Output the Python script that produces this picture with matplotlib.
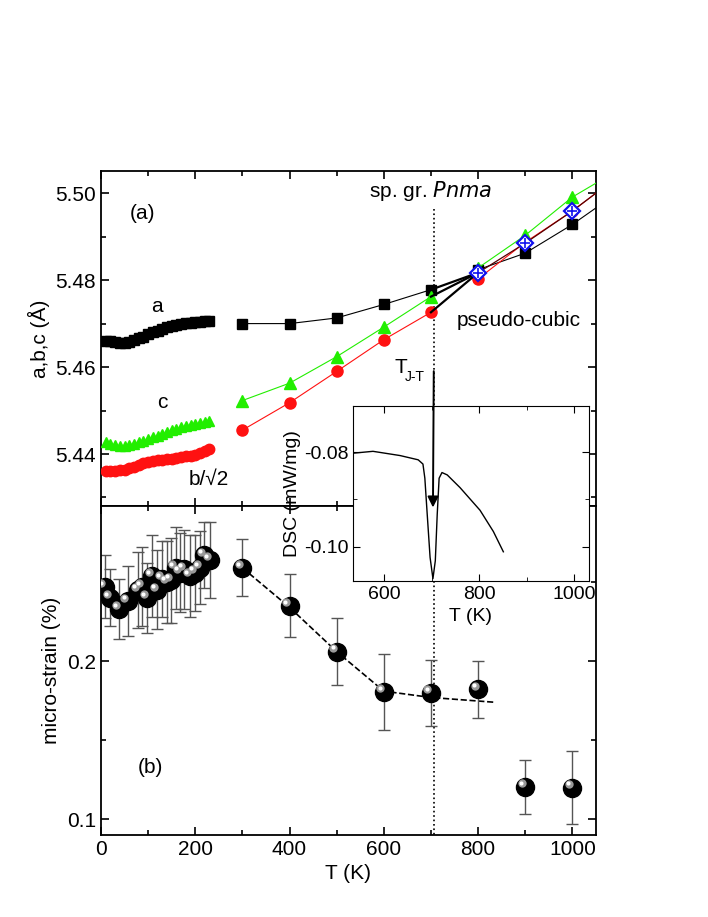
import matplotlib
matplotlib.use("Agg")
import matplotlib.pyplot as plt
import matplotlib.transforms as mtransforms
import numpy as np

plt.rcParams['font.family'] = ['Liberation Sans', 'DejaVu Sans']

# ---- lattice parameters, low T ----
T_low = [10, 20, 30, 40, 50, 60, 70, 80, 90, 100, 110, 120, 130, 140, 150, 160, 170, 180, 190, 200, 210, 220, 230]
a_low = [5.4660, 5.4659, 5.4658, 5.4656, 5.4655, 5.4658, 5.4662, 5.4666, 5.4670, 5.4675, 5.4680, 5.4684, 5.4688, 5.4692, 5.4695,
         5.4697, 5.4699, 5.4701, 5.4702, 5.4704, 5.4704, 5.4705, 5.4705]
c_low = [5.4428, 5.4424, 5.4421, 5.4419, 5.4418, 5.4420, 5.4423, 5.4427, 5.4430, 5.4434, 5.4438, 5.4442, 5.4446, 5.4450, 5.4455,
         5.4458, 5.4461, 5.4464, 5.4466, 5.4468, 5.4471, 5.4474, 5.4477]
b_low = [5.4360, 5.4360, 5.4362, 5.4363, 5.4364, 5.4367, 5.4371, 5.4375, 5.4379, 5.4382, 5.4384, 5.4386, 5.4387, 5.4388, 5.4389,
         5.4391, 5.4393, 5.4395, 5.4396, 5.4398, 5.4402, 5.4408, 5.4412]
# ---- lattice parameters, high T ----
T_high = [300, 400, 500, 600, 700]
a_high = [5.4700, 5.4700, 5.4713, 5.4744, 5.4778]
c_high = [5.4523, 5.4563, 5.4624, 5.4692, 5.4762]
b_high = [5.4455, 5.4518, 5.4590, 5.4663, 5.4726]
T_cub = [800, 900, 1000]
a_cub = [5.4824, 5.4862, 5.4928]
c_cub = [5.4828, 5.4903, 5.4991]
b_cub = [5.4803, 5.4887, 5.4959]
p_cub = [5.4817, 5.4885, 5.4959]
T_end = 1050
a_end, c_end, b_end = 5.4966, 5.5023, 5.5000

# ---- micro-strain ----
T_ms = [8, 19, 39, 57, 79, 87, 98, 109, 119, 130, 140, 149, 158, 168, 177, 189, 200, 211, 219, 232,
        300, 400, 500, 600, 700, 800, 900, 1000]
ms = [0.247, 0.240, 0.233, 0.238, 0.245, 0.247, 0.240, 0.254, 0.245, 0.252, 0.250, 0.251, 0.259, 0.256, 0.258, 0.254,
      0.256, 0.259, 0.267, 0.264, 0.259, 0.235, 0.206, 0.1805, 0.180, 0.1823, 0.1205, 0.120]
ms_err = [0.020, 0.018, 0.019, 0.022, 0.024, 0.025, 0.022, 0.026, 0.025, 0.024, 0.026, 0.027, 0.026, 0.025, 0.025, 0.026,
          0.024, 0.023, 0.021, 0.024, 0.018, 0.020, 0.021, 0.024, 0.021, 0.018, 0.017, 0.023]
T_fit = [300, 400, 500, 600, 700, 834]
ms_fit = [0.259, 0.234, 0.206, 0.181, 0.177, 0.174]

# ---- DSC inset ----
T_dsc = [535, 577, 634, 672, 682, 686, 691, 697, 703, 708, 712, 716, 722, 733, 760, 802, 830, 851]
dsc = [-0.0802, -0.0798, -0.0807, -0.0816, -0.0825, -0.0855, -0.0932, -0.1023, -0.1068, -0.1030, -0.0932, -0.0855,
       -0.0843, -0.0848, -0.0875, -0.0923, -0.0968, -0.1011]

T_JT = 706

fig = plt.figure(figsize=(7.08, 9.17), dpi=100)
axA = fig.add_axes([0.1427, 0.448, 0.699, 0.366])
axB = fig.add_axes([0.1427, 0.0894, 0.699, 0.3586])

FS = 15
for ax in (axA, axB):
    ax.set_xlim(0, 1050)
    ax.tick_params(direction='in', which='both', top=True, right=True, labelsize=FS, width=1.2)
    ax.tick_params(which='major', length=6)
    ax.tick_params(which='minor', length=3.5)
    ax.set_xticks([0, 200, 400, 600, 800, 1000])
    ax.set_xticks([100, 300, 500, 700, 900], minor=True)
    for s in ax.spines.values():
        s.set_linewidth(1.3)

# panel (a)
axA.set_ylim(5.428, 5.5052)
axA.set_yticks([5.44, 5.46, 5.48, 5.50])
axA.set_yticklabels(['5.44', '5.46', '5.48', '5.50'])
axA.set_yticks([5.43, 5.45, 5.47, 5.49], minor=True)
axA.tick_params(labelbottom=False)
axA.set_ylabel('a,b,c (Å)', fontsize=FS)

axA.plot(T_low, a_low, 's', color='black', ms=6.5, zorder=3)
axA.plot(T_low, c_low, '^', color='#22ee00', ms=7.5, zorder=3)
axA.plot(T_low, b_low, 'o', color='#ff1111', ms=7.5, zorder=3)
axA.plot(T_high, a_high, 's-', color='black', ms=7, lw=0.8, zorder=3)
axA.plot(T_high, c_high, '^-', color='#22ee00', ms=8, lw=0.8, zorder=3)
axA.plot(T_high, b_high, 'o-', color='#ff1111', ms=8, lw=0.8, zorder=3)
axA.plot(T_cub + [T_end], a_cub + [a_end], 's-', color='black', ms=7, lw=0.8, markevery=[0, 1, 2], zorder=3)
axA.plot(T_cub + [T_end], c_cub + [c_end], '^-', color='#22ee00', ms=8, lw=0.8, markevery=[0, 1, 2], zorder=3)
axA.plot(T_cub + [T_end], b_cub + [b_end], 'o-', color='#ff1111', ms=8, lw=0.8, markevery=[0, 1, 2], zorder=3)
axA.plot(T_cub + [T_end], p_cub + [b_end], '-', color='#550000', lw=0.9, zorder=3)
for y in (a_high[-1], c_high[-1], b_high[-1]):
    axA.plot([T_high[-1], T_cub[0]], [y, p_cub[0]], '-', color='black', lw=1.6, zorder=4)
axA.plot(T_cub, p_cub, 'D', mfc='white', mec='#1010ee', mew=1.6, ms=8, zorder=5)
axA.plot(T_cub, p_cub, '+', color='#1010ee', mew=1.2, ms=7, zorder=6)

axA.text(87, 5.4953, '(a)', fontsize=FS, ha='center', va='center')
axA.text(119, 5.474, 'a', fontsize=FS, ha='center', va='center')
axA.text(130, 5.4518, 'c', fontsize=FS, ha='center', va='center')
axA.text(228, 5.4342, 'b/√2', fontsize=FS, ha='center', va='center')
axA.text(700, 5.5005, 'sp. gr. $\\it{Pnma}$', fontsize=FS, ha='center', va='center')
axA.text(887, 5.4706, 'pseudo-cubic', fontsize=FS, ha='center', va='center')
axA.text(636, 5.4600, 'T', fontsize=FS, ha='center', va='center')
axA.text(644, 5.4578, 'J-T', fontsize=10, ha='left', va='center')
axA.plot([T_JT, T_JT], [5.4964, 5.428], ':', color='black', lw=1.2)

# panel (b)
axB.set_ylim(0.090, 0.298)
axB.set_yticks([0.1, 0.2])
axB.set_yticklabels(['0.1', '0.2'])
axB.set_yticks([0.15, 0.25], minor=True)
axB.set_xlabel('T (K)', fontsize=FS)
axB.set_ylabel('micro-strain (%)', fontsize=FS)
axB.plot([T_JT, T_JT], [0.298, 0.090], ':', color='black', lw=1.2, clip_on=False)
axB.plot(T_fit, ms_fit, '--', color='black', lw=1.2, zorder=2)
axB.errorbar(T_ms, ms, yerr=ms_err, fmt='none', ecolor='#555555', elinewidth=1.0, capsize=4, capthick=1.0, zorder=2)
axB.plot(T_ms, ms, 'o', color='black', ms=13, zorder=3)
off = mtransforms.ScaledTranslation(-2.5 / 72, 2.5 / 72, fig.dpi_scale_trans)
axB.plot(T_ms, ms, 'o', color='#999999', ms=6, mew=0, zorder=4, transform=axB.transData + off)
off2 = mtransforms.ScaledTranslation(-3 / 72, 3 / 72, fig.dpi_scale_trans)
axB.plot(T_ms, ms, 'o', color='white', ms=3, mew=0, zorder=5, transform=axB.transData + off2)
axB.text(104, 0.1325, '(b)', fontsize=FS, ha='center', va='center')

# inset
axI = fig.add_axes([0.4986, 0.3664, 0.3333, 0.1908])
axI.set_xlim(535, 1031)
axI.set_ylim(-0.1073, -0.0702)
axI.plot(T_dsc, dsc, '-', color='black', lw=1.0)
axI.set_xticks([600, 800, 1000])
axI.set_xticks([700, 900], minor=True)
axI.set_yticks([-0.10, -0.08])
axI.set_yticklabels(['-0.10', '-0.08'])
axI.set_yticks([-0.09], minor=True)
axI.tick_params(direction='in', which='both', top=True, right=True, labelsize=14)
axI.tick_params(which='major', length=5)
axI.tick_params(which='minor', length=3)
axI.set_xlabel('T (K)', fontsize=14)
axI.set_ylabel('DSC (mW/mg)', fontsize=14, labelpad=2)
axI.annotate('', xy=(703, -0.0923), xycoords=axI.transData,
             xytext=(T_JT, 5.4597), textcoords=axA.transData,
             arrowprops=dict(arrowstyle='-|>', color='black', lw=1.4, mutation_scale=16), zorder=10)

fig.savefig('out.png', dpi=100)
